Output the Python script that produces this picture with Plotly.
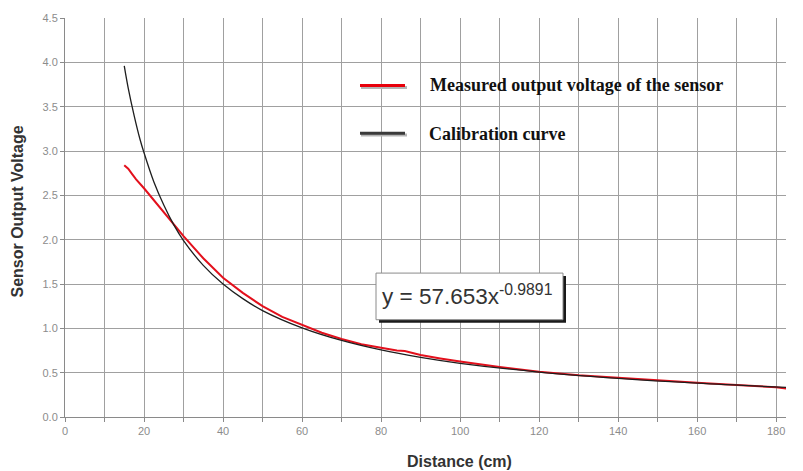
import plotly.graph_objects as go

# Measured output voltage (red)
measured_x = [15, 16, 17, 18, 20, 22, 24, 26, 28, 30, 35, 40, 45, 50, 55, 60, 65, 70, 75, 80,
              84, 86, 88, 90, 95, 100, 110, 120, 130, 140, 150, 160, 170, 175, 180, 185]
measured_y = [2.84, 2.80, 2.74, 2.68, 2.58, 2.47, 2.36, 2.25, 2.14, 2.04, 1.79, 1.57, 1.40, 1.25,
              1.13, 1.04, 0.95, 0.88, 0.82, 0.78, 0.75, 0.745, 0.72, 0.70, 0.66, 0.625, 0.565,
              0.51, 0.47, 0.44, 0.41, 0.385, 0.36, 0.35, 0.335, 0.31]

# Calibration curve (black)
calib_x = [15, 16, 17.5, 19, 20, 22.5, 25, 27.5, 30, 35, 40, 45, 50, 60, 70, 80, 90, 100,
           120, 140, 160, 185]
calib_y = [3.96, 3.71, 3.40, 3.13, 2.98, 2.65, 2.39, 2.17, 1.99, 1.71, 1.50, 1.335, 1.20, 1.005,
           0.863, 0.756, 0.673, 0.606, 0.506, 0.435, 0.381, 0.330]

x_range = [0, 182.5]
y_range = [0, 4.5]

legend_labels = ["Measured output voltage of the sensor", "Calibration curve"]
equation = "y = 57.653x<sup>-0.9891</sup>"
x_title = "Distance (cm)"
y_title = "Sensor Output Voltage"

grid = "#a0a0a0"
tickc = "#8c8c8c"
sans = "Liberation Sans, Arial, sans-serif"
serif = "Liberation Serif, Times New Roman, serif"

fig = go.Figure()
fig.add_trace(go.Scatter(x=measured_x, y=measured_y, mode="lines",
                         line=dict(color="#e3101c", width=2), showlegend=False))
fig.add_trace(go.Scatter(x=calib_x, y=calib_y, mode="lines", line_shape="spline",
                         line=dict(color="#1e1e1e", width=1.3), showlegend=False))

# plot area in pixels: x 65..786, y 15..417
W, H = 803, 471
L, R, T, B = 65, 786, 15, 417
def px(xp):
    return (xp - L) / (R - L)
def py(yp):
    return (B - yp) / (B - T)

shapes = []
# legend samples with shadows
for yy, col in [(83, "#e8000b"), (131, "#3a3a3a")]:
    shapes.append(dict(type="line", xref="paper", yref="paper", x0=px(361), x1=px(407),
                       y0=py(yy + 2), y1=py(yy + 2), line=dict(color="#b5b5b5", width=3)))
    shapes.append(dict(type="line", xref="paper", yref="paper", x0=px(360), x1=px(405),
                       y0=py(yy), y1=py(yy), line=dict(color=col, width=3)))
# equation box with shadow
shapes.append(dict(type="rect", xref="paper", yref="paper", x0=px(379), x1=px(566),
                   y0=py(322), y1=py(275), fillcolor="#1a1a1a", line=dict(width=0)))
shapes.append(dict(type="rect", xref="paper", yref="paper", x0=px(376), x1=px(563),
                   y0=py(319), y1=py(272), fillcolor="white", line=dict(color="#8a8a8a", width=1)))

annotations = [
    dict(xref="paper", yref="paper", x=px(428), y=py(83), xanchor="left", yanchor="middle",
         text="<b>" + legend_labels[0] + "</b>", showarrow=False,
         font=dict(family=serif, size=18, color="#111")),
    dict(xref="paper", yref="paper", x=px(427), y=py(132), xanchor="left", yanchor="middle",
         text="<b>" + legend_labels[1] + "</b>", showarrow=False,
         font=dict(family=serif, size=18, color="#111")),
    dict(xref="paper", yref="paper", x=px(380), y=py(294), xanchor="left", yanchor="middle",
         text=equation, showarrow=False, font=dict(family=sans, size=22.5, color="#333")),
    dict(xref="paper", yref="paper", x=px(459), y=py(462), xanchor="center", yanchor="middle",
         text="<b>" + x_title + "</b>", showarrow=False, font=dict(family=sans, size=16, color="#333")),
    dict(xref="paper", yref="paper", x=px(18), y=py(210), xanchor="center", yanchor="middle",
         text="<b>" + y_title + "</b>", textangle=-90, showarrow=False,
         font=dict(family=sans, size=16, color="#333")),
]

fig.update_layout(
    width=W, height=H,
    margin=dict(l=L, r=W - R, t=T, b=H - B),
    paper_bgcolor="white", plot_bgcolor="white",
    shapes=shapes, annotations=annotations,
    xaxis=dict(range=x_range, dtick=20, tick0=0, showgrid=True, gridcolor=grid, gridwidth=1,
               showline=True, linecolor="#8a8a8a", linewidth=1, ticks="outside", ticklen=4,
               tickcolor="#8a8a8a", zeroline=False,
               tickfont=dict(family=sans, size=11, color=tickc),
               minor=dict(dtick=10, tick0=0, showgrid=True, gridcolor=grid, gridwidth=1,
                          ticks="outside", ticklen=4, tickcolor="#8a8a8a")),
    yaxis=dict(range=y_range, dtick=0.5, tick0=0, tickformat=".1f", showgrid=True, gridcolor=grid,
               gridwidth=1, showline=True, linecolor="#8a8a8a", linewidth=1, ticks="outside",
               ticklen=4, tickcolor="#8a8a8a", zeroline=False,
               tickfont=dict(family=sans, size=11, color=tickc)),
)

fig.write_html("out.html", config={"displayModeBar": False},
               post_script="document.body.style.margin='0px';document.body.style.overflow='hidden';")
